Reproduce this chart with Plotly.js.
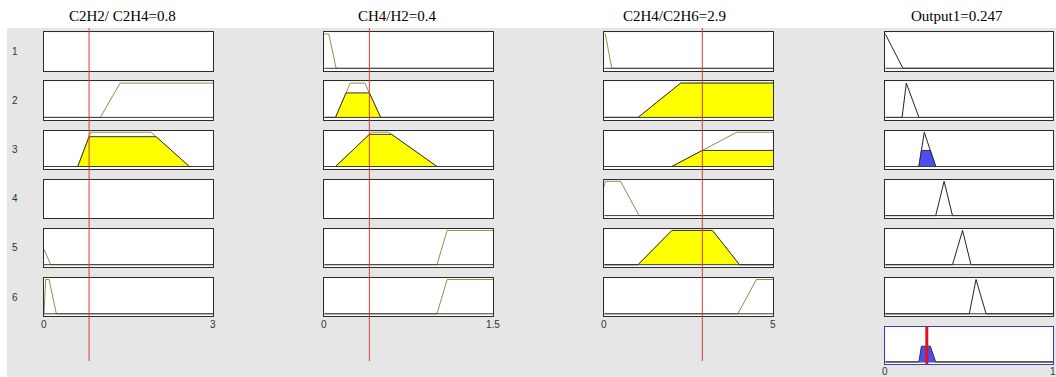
<!DOCTYPE html>
<html>
<head>
<meta charset="utf-8">
<script src="https://cdn.plot.ly/plotly-3.0.1.min.js"></script>
<style>html,body{margin:0;padding:0;background:#fff}#chart{width:1056px;height:377px}</style>
</head>
<body>
<div id="chart"></div>
<script>
// ---- data ----
const inputNames = ['C2H2/ C2H4', 'CH4/H2', 'C2H4/C2H6'];
const inputValues = [0.8, 0.4, 2.9];
const inputRanges = [[0, 3], [0, 1.5], [0, 5]];
const outputName = 'Output1';
const outputValue = 0.247;
const outputRange = [0, 1];
const ruleLabels = ['1', '2', '3', '4', '5', '6'];
// trapezoid params [a,b,c,d] per rule (null = input not used in rule)
const mfIn1 = [null, [1.0, 1.35, 3, 3], [0.6, 0.83, 1.9, 2.58], null, [-0.3, -0.2, -0.147, 0.12], [0, 0.03, 0.09, 0.22]];
const mfIn2 = [[0, 0, 0.04, 0.105], [0.1, 0.23, 0.36, 0.5], [0.1, 0.42, 0.57, 1.0], null, [1.0, 1.09, 1.5, 1.5], [1.0, 1.09, 1.5, 1.5]];
const mfIn3 = [[0, 0, 0.03, 0.22], [1.0, 2.26, 5, 5], [2.0, 3.92, 5, 5], [-0.15, 0.03, 0.48, 1.03], [1, 2, 3.2, 4], [3.95, 4.5, 5, 5]];
// triangle params [a,b,c] for the output per rule
const mfOut = [[-0.1, 0, 0.105], [0.1, 0.125, 0.2], [0.2, 0.232, 0.3], [0.3, 0.35, 0.4], [0.4, 0.46, 0.51], [0.5, 0.54, 0.6]];

// ---- layout geometry (pixels) ----
const W = 1056, H = 377;
const colX = [[44, 213], [324.3, 493.3], [604.3, 773.3], [885.3, 1053.3]];
const rowTop0 = 32.3, rowStep = 49.1, rowH = 38.4;
const aggY = [326.7, 364.3];
const titleCx = [122.5, 397, 674.5, 957];
const YR = [-0.07, 1.05];

function trap(x, p) {
  const [a, b, c, d] = p;
  const up = b > a ? (x - a) / (b - a) : (x >= a ? 1 : 0);
  const dn = d > c ? (d - x) / (d - c) : (x <= d ? 1 : 0);
  return Math.max(0, Math.min(up, 1, dn));
}
function tri2trap(t) { return [t[0], t[1], t[1], t[2]]; }
function xsFor(p, rng, extra) {
  let xs = [rng[0], rng[1]];
  p.concat(extra || []).forEach(v => { if (v > rng[0] && v < rng[1]) xs.push(v); });
  xs.sort((u, v) => u - v);
  return xs.filter((v, i) => i === 0 || v !== xs[i - 1]);
}
const px2x = px => px / W;
const px2y = py => 1 - py / H;

const traces = [];
const layout = {
  width: W, height: H,
  margin: {l: 0, r: 0, t: 0, b: 0},
  paper_bgcolor: '#e6e6e6',
  plot_bgcolor: '#ffffff',
  showlegend: false,
  shapes: [],
  annotations: []
};
// white strips (top and left)
layout.shapes.push({type: 'rect', xref: 'paper', yref: 'paper', x0: 0, x1: 1, y0: px2y(28), y1: 1, fillcolor: '#ffffff', line: {width: 0}, layer: 'below'});
layout.shapes.push({type: 'rect', xref: 'paper', yref: 'paper', x0: 0, x1: px2x(7), y0: 0, y1: 1, fillcolor: '#ffffff', line: {width: 0}, layer: 'below'});

const tickFont = {family: 'Liberation Sans, Arial', size: 10, color: '#333'};
function addAxes(k, xd, yd, rng, lineColor) {
  layout['xaxis' + k] = {
    domain: xd, range: rng, anchor: 'y' + k,
    showline: true, mirror: true, linecolor: lineColor, linewidth: 1,
    showgrid: false, zeroline: false, ticks: '', fixedrange: true, showticklabels: false
  };
  layout['yaxis' + k] = {
    domain: yd, range: YR, anchor: 'x' + k,
    showline: true, mirror: true, linecolor: lineColor, linewidth: 1,
    showgrid: false, zeroline: false, ticks: '', showticklabels: false, fixedrange: true
  };
  // invisible anchor trace so that every box is drawn
  traces.push({x: [rng[0]], y: [0.5], xaxis: 'x' + k, yaxis: 'y' + k, type: 'scatter', mode: 'markers',
    marker: {opacity: 0, size: 1}, hoverinfo: 'skip'});
}
function addTickLabels(k, rng, yPx) {
  rng.forEach(v => layout.annotations.push({text: String(v), xref: 'x' + k, yref: 'paper', x: v, y: px2y(yPx),
    xanchor: 'center', yanchor: 'middle', showarrow: false, font: tickFont}));
}
function addBaseline(k, rng) {
  traces.push({x: rng, y: [0, 0], xaxis: 'x' + k, yaxis: 'y' + k, type: 'scatter', mode: 'lines',
    line: {color: '#3a3a3a', width: 1}, hoverinfo: 'skip'});
}

const inMFs = [mfIn1, mfIn2, mfIn3];
const allCols = inputRanges.concat([outputRange]);
const firing = [];
for (let r = 0; r < 6; r++) {
  let w = 1;
  for (let c = 0; c < 3; c++) {
    const p = inMFs[c][r];
    if (p) w = Math.min(w, trap(inputValues[c], p));
  }
  firing.push(w);
}

let k = 0;
for (let c = 0; c < 4; c++) {
  for (let r = 0; r < 6; r++) {
    k++;
    const top = rowTop0 + r * rowStep;
    const xd = [px2x(colX[c][0]), px2x(colX[c][1])];
    const yd = [px2y(top + rowH), px2y(top)];
    addAxes(k, xd, yd, allCols[c], '#2b2b2b');
    if (r === 5 && c < 3) addTickLabels(k, allCols[c], 324);
    const xa = 'x' + k, ya = 'y' + k;
    let p, deg, lineCol, fillCol;
    if (c < 3) {
      p = inMFs[c][r];
      if (!p) continue;
      deg = trap(inputValues[c], p);
      lineCol = '#8f8f4a'; fillCol = '#ffff00';
    } else {
      p = tri2trap(mfOut[r]);
      deg = firing[r];
      lineCol = '#222222'; fillCol = '#4d4df2';
    }
    const rng = allCols[c];
    const xs = xsFor(p, rng);
    traces.push({x: xs, y: xs.map(x => trap(x, p)), xaxis: xa, yaxis: ya, type: 'scatter', mode: 'lines',
      line: {color: lineCol, width: 1}, hoverinfo: 'skip'});
    if (deg > 0) {
      const ex = [p[0] + deg * (p[1] - p[0]), p[3] - deg * (p[3] - p[2])];
      const xf = xsFor(p, rng, ex);
      traces.push({x: xf, y: xf.map(x => Math.min(trap(x, p), deg)), xaxis: xa, yaxis: ya, type: 'scatter', mode: 'lines',
        fill: 'tozeroy', fillcolor: fillCol, line: {color: '#333333', width: 1}, hoverinfo: 'skip'});
    }
    addBaseline(k, rng);
  }
}
// aggregated output
k++;
addAxes(k, [px2x(colX[3][0]), px2x(colX[3][1])], [px2y(aggY[1]), px2y(aggY[0])], outputRange, '#3a3ac4');
addTickLabels(k, outputRange, 371.5);
{
  let pts = [];
  mfOut.forEach((t, r) => {
    const p = tri2trap(t), d = firing[r];
    pts = pts.concat(p, [p[0] + d * (p[1] - p[0]), p[3] - d * (p[3] - p[2])]);
  });
  const xs = xsFor(pts, outputRange);
  const ys = xs.map(x => Math.max(...mfOut.map((t, r) => Math.min(trap(x, tri2trap(t)), firing[r]))));
  addBaseline(k, outputRange);
  traces.push({x: xs, y: ys, xaxis: 'x' + k, yaxis: 'y' + k, type: 'scatter', mode: 'lines',
    fill: 'tozeroy', fillcolor: '#4d4df2', line: {color: '#333333', width: 1}, hoverinfo: 'skip'});
  traces.push({x: [outputValue, outputValue], y: [YR[0], YR[1]], xaxis: 'x' + k, yaxis: 'y' + k, type: 'scatter', mode: 'lines',
    line: {color: '#e3121c', width: 3}, hoverinfo: 'skip'});
}
// red input lines
for (let c = 0; c < 3; c++) {
  layout.shapes.push({type: 'line', xref: 'x' + (c * 6 + 1), yref: 'paper', x0: inputValues[c], x1: inputValues[c],
    y0: px2y(361), y1: px2y(28), line: {color: '#d83a3a', width: 1}});
}
// titles
const titles = inputNames.map((n, i) => n + '=' + inputValues[i]).concat([outputName + '=' + outputValue]);
titles.forEach((t, i) => layout.annotations.push({text: t, xref: 'paper', yref: 'paper', x: px2x(titleCx[i]), y: px2y(16),
  xanchor: 'center', yanchor: 'middle', showarrow: false, font: {family: 'Liberation Serif, Times New Roman', size: 15, color: '#000'}}));
// row labels
ruleLabels.forEach((t, r) => layout.annotations.push({text: t, xref: 'paper', yref: 'paper', x: px2x(15), y: px2y(rowTop0 + r * rowStep + rowH / 2),
  xanchor: 'center', yanchor: 'middle', showarrow: false, font: {family: 'Liberation Sans, Arial', size: 10, color: '#333'}}));

Plotly.newPlot('chart', traces, layout, {staticPlot: true, displayModeBar: false});
</script>
</body>
</html>
